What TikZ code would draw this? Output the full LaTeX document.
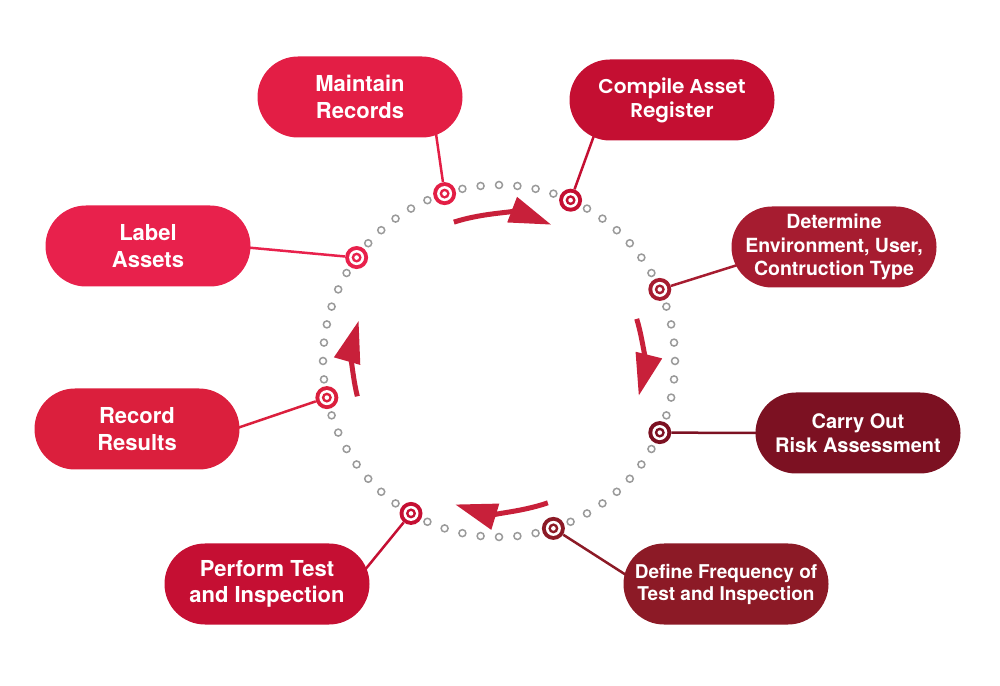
\documentclass[tikz,border=0pt]{standalone}
\usepackage{fontspec}
\setmainfont{TeX Gyre Heros}
\newfontfamily\geofont{Poppins}[BoldFont={Poppins SemiBold}]
\usetikzlibrary{arrows.meta,backgrounds}

\definecolor{cMain}{HTML}{E31E45}
\definecolor{cReg}{HTML}{C40F32}
\definecolor{cEnv}{HTML}{A61C30}
\definecolor{cRisk}{HTML}{7C1122}
\definecolor{cFreq}{HTML}{8C1A26}
\definecolor{cTest}{HTML}{C50F33}
\definecolor{cRes}{HTML}{DB1F3D}
\definecolor{cLab}{HTML}{E8214C}
\definecolor{cArrow}{HTML}{C8203A}
\definecolor{cDot}{HTML}{9A9A9A}

\tikzset{
  ringmark/.style={circle, fill=#1, minimum size=23pt, inner sep=0pt,
    path picture={
      \fill[white] (path picture bounding box.center) circle (7.5pt);
      \fill[#1] (path picture bounding box.center) circle (5pt);
      \fill[white] (path picture bounding box.center) circle (2.3pt);
    }},
  cyclearrow/.style={draw=cArrow, line width=5pt, -{Triangle[length=42pt,width=26pt]}}
}

\begin{document}
\begin{tikzpicture}[x=1pt,y=1pt]
        \useasboundingbox (0,0) rectangle (1000,685);
        \coordinate (c) at (499,324);

        \begin{scope}[every node/.style={rounded corners=40.5pt, minimum width=205pt, minimum height=81pt,
            inner sep=0pt, align=center, text=white, font=\bfseries\fontsize{22}{26.5}\selectfont}]
          \node[fill=cMain] (1) at (360,588) {Maintain\\Records};
          \node[fill=cReg, font=\geofont\bfseries\fontsize{20}{24}\selectfont] (2) at (672,585) {Compile Asset\\Register};
          \node[fill=cEnv, font=\bfseries\fontsize{19.5}{23.5}\selectfont] (3) at (834,438) {Determine\\Environment, User,\\Contruction Type};
          \node[fill=cRisk, font=\bfseries\fontsize{20}{23.5}\selectfont] (4) at (858,252) {Carry Out\\Risk Assessment};
          \node[fill=cFreq, font=\bfseries\fontsize{19}{22}\selectfont] (5) at (726,101) {Define Frequency of\\Test and Inspection};
          \node[fill=cTest] (6) at (267,101) {Perform Test\\and Inspection};
          \node[fill=cRes] (7) at (137,256) {Record\\Results};
          \node[fill=cLab] (8) at (148,439) {Label\\Assets};
        \end{scope}

        % dotted ring
        \foreach \a in {0,6,...,354}
          \draw[cDot, line width=1.5pt, fill=white] ([shift={(c)}]\a:176) circle (3.5pt);

        \node[ringmark=cMain] (p1) at ([shift={(c)}]108:176) {};
        \node[ringmark=cReg]  (p2) at ([shift={(c)}]66:176) {};
        \node[ringmark=cEnv]  (p3) at ([shift={(c)}]24:176) {};
        \node[ringmark=cRisk] (p4) at ([shift={(c)}]-24:176) {};
        \node[ringmark=cFreq] (p5) at ([shift={(c)}]-72:176) {};
        \node[ringmark=cTest] (p6) at ([shift={(c)}]-120:176) {};
        \node[ringmark=cRes]  (p7) at ([shift={(c)}]192:176) {};
        \node[ringmark=cLab]  (p8) at ([shift={(c)}]144:176) {};

        \begin{scope}[on background layer, every edge/.style={draw, line width=2.5pt, shorten >=-8pt}]
          \path (p1) edge[cMain] (1.-28);
          \path (p2) edge[cReg]  (2.207);
          \path (p3) edge[cEnv]  (3.191.6);
          \path (p4) edge[cRisk] (4.west);
          \path (p5) edge[cFreq] (5.174.9);
          \path (p6) edge[cTest] (6.11.9);
          \path (p7) edge[cRes]  (7.1.7);
          \path (p8) edge[cLab]  (8.-1.1);
        \end{scope}

        % cycle arrows
        \draw[cyclearrow] ([shift={(c)}]108:146) arc[start angle=108, end angle=69, radius=146pt];
        \draw[cyclearrow] ([shift={(c)}]17:144) arc[start angle=17, end angle=-14, radius=144pt];
        \draw[cyclearrow] ([shift={(c)}]-71:150) arc[start angle=-71, end angle=-107, radius=150pt];
        \draw[cyclearrow] ([shift={(c)}]194:146) arc[start angle=194, end angle=164, radius=146pt];

      \end{tikzpicture}
\end{document}
